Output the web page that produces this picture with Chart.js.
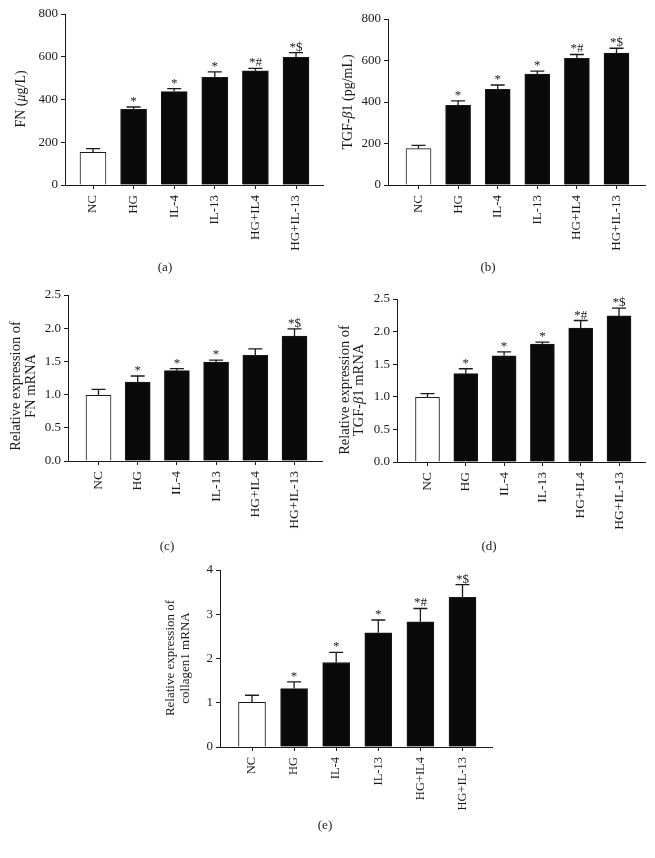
<!DOCTYPE html>
<html>
<head>
<meta charset="utf-8">
<script src="https://cdn.jsdelivr.net/npm/chart.js@4.4.1/dist/chart.umd.min.js"></script>
<style>
    html, body { margin: 0; padding: 0; background: #fff; }
    #page { position: relative; width: 655px; height: 858px; overflow: hidden; }
    .box { position: absolute; }
    .caption {
        position: absolute;
        font-family: "Liberation Serif", serif;
        font-size: 13px;
        color: #222;
        transform: translate(-50%, -50%);
    }
</style>
</head>
<body>
<div id="page"></div>
<script>
// groups on the x axis (same for all five panels)
var categories = ['NC', 'HG', 'IL-4', 'IL-13', 'HG+IL4', 'HG+IL-13'];

// (a) FN protein, ug/L
var fnProtein = [153, 354, 437, 504, 534, 597];
var fnProteinErr = [17, 11, 14, 25, 12, 22];
var fnProteinMarks = ['', '*', '*', '*', '*#', '*$'];

// (b) TGF-b1 protein, pg/mL
var tgfProtein = [175, 384, 461, 535, 610, 636];
var tgfProteinErr = [16, 21, 21, 14, 19, 23];
var tgfProteinMarks = ['', '*', '*', '*', '*#', '*$'];

// (c) FN mRNA
var fnMrna = [0.99, 1.19, 1.36, 1.49, 1.59, 1.88];
var fnMrnaErr = [0.09, 0.09, 0.03, 0.03, 0.10, 0.11];
var fnMrnaMarks = ['', '*', '*', '*', '', '*$'];

// (d) TGF-b1 mRNA
var tgfMrna = [0.99, 1.355, 1.63, 1.81, 2.055, 2.24];
var tgfMrnaErr = [0.06, 0.075, 0.06, 0.03, 0.115, 0.12];
var tgfMrnaMarks = ['', '*', '*', '*', '*#', '*$'];

// (e) collagen1 mRNA
var colMrna = [1.01, 1.32, 1.91, 2.58, 2.83, 3.38];
var colMrnaErr = [0.16, 0.15, 0.23, 0.29, 0.30, 0.29];
var colMrnaMarks = ['', '*', '*', '*', '*#', '*$'];

var FONT = '"Liberation Serif", serif';
var INK = '#1a1a1a';

// error bars, significance marks and the y titles
var panelExtras = {
    id: 'panelExtras',
    afterDatasetsDraw: function (chart, args, o) {
        var ctx = chart.ctx;
        var yScale = chart.scales.y;
        var bars = chart.getDatasetMeta(0).data;
        ctx.save();
        ctx.strokeStyle = INK;
        ctx.fillStyle = INK;
        ctx.lineWidth = 1.3;
        ctx.font = o.markFont + 'px ' + FONT;
        ctx.textAlign = 'center';
        ctx.textBaseline = 'alphabetic';
        bars.forEach(function (bar, i) {
            var top = yScale.getPixelForValue(o.values[i] + o.errors[i]);
            ctx.beginPath();
            ctx.moveTo(bar.x, bar.y);
            ctx.lineTo(bar.x, top);
            ctx.moveTo(bar.x - o.capW / 2, top);
            ctx.lineTo(bar.x + o.capW / 2, top);
            ctx.stroke();
            if (o.marks[i]) {
                ctx.fillText(o.marks[i], bar.x, top - 2);
            }
        });

        // rotated y title, a line may mix upright and italic parts
        ctx.textAlign = 'left';
        ctx.textBaseline = 'middle';
        o.title.forEach(function (line) {
            var w = 0;
            line.parts.forEach(function (p) {
                ctx.font = (p[1] ? 'italic ' : '') + o.titleFont + 'px ' + FONT;
                w += ctx.measureText(p[0]).width;
            });
            ctx.save();
            ctx.translate(line.x - o.box.x, o.titleY - o.box.y);
            ctx.rotate(-Math.PI / 2);
            var pos = -w / 2;
            line.parts.forEach(function (p) {
                ctx.font = (p[1] ? 'italic ' : '') + o.titleFont + 'px ' + FONT;
                ctx.fillText(p[0], pos, 0);
                pos += ctx.measureText(p[0]).width;
            });
            ctx.restore();
        });
        ctx.restore();
    }
};

var panels = [
    {
        caption: '(a)', capX: 165, capY: 267,
        values: fnProtein, errors: fnProteinErr, marks: fnProteinMarks,
        yMax: 800, yStep: 200, dec: 0,
        box: { x: 0, y: 0, w: 330, h: 262 },
        area: { l: 65, t: 14, r: 323, b: 185 }, first: 93, last: 296, barW: 26,
        title: [{ x: 21, parts: [['FN (', false], ['\u03bc', true], ['g/L)', false]] }],
        titleY: 99, titleFont: 14, xFont: 13
    },
    {
        caption: '(b)', capX: 488, capY: 267,
        values: tgfProtein, errors: tgfProteinErr, marks: tgfProteinMarks,
        yMax: 800, yStep: 200, dec: 0,
        box: { x: 330, y: 0, w: 325, h: 262 },
        area: { l: 388, t: 19, r: 645, b: 185 }, first: 418.5, last: 616.5, barW: 25,
        title: [{ x: 348, parts: [['TGF-', false], ['\u03b2', true], ['1 (pg/mL)', false]] }],
        titleY: 102, titleFont: 14, xFont: 13
    },
    {
        caption: '(c)', capX: 167, capY: 546,
        values: fnMrna, errors: fnMrnaErr, marks: fnMrnaMarks,
        yMax: 2.5, yStep: 0.5, dec: 1,
        box: { x: 0, y: 270, w: 330, h: 262 },
        area: { l: 68, t: 295, r: 322, b: 461 }, first: 98.5, last: 294.5, barW: 25,
        title: [
            { x: 16, parts: [['Relative expression of', false]] },
            { x: 31, parts: [['FN mRNA', false]] }
        ],
        titleY: 386, titleFont: 14.5, xFont: 13.5
    },
    {
        caption: '(d)', capX: 489, capY: 546,
        values: tgfMrna, errors: tgfMrnaErr, marks: tgfMrnaMarks,
        yMax: 2.5, yStep: 0.5, dec: 1,
        box: { x: 330, y: 270, w: 325, h: 262 },
        area: { l: 397, t: 299, r: 645, b: 462 }, first: 427.5, last: 619, barW: 24,
        title: [
            { x: 345, parts: [['Relative expression of', false]] },
            { x: 359, parts: [['TGF-', false], ['\u03b2', true], ['1 mRNA', false]] }
        ],
        titleY: 390, titleFont: 14.5, xFont: 13.5
    },
    {
        caption: '(e)', capX: 325, capY: 825,
        values: colMrna, errors: colMrnaErr, marks: colMrnaMarks,
        yMax: 4, yStep: 1, dec: 0,
        box: { x: 140, y: 552, w: 380, h: 262 },
        area: { l: 220, t: 570, r: 492, b: 747 }, first: 252, last: 462.5, barW: 27,
        title: [
            { x: 171, parts: [['Relative expression of', false]] },
            { x: 186, parts: [['collagen1 mRNA', false]] }
        ],
        titleY: 658, titleFont: 13, xFont: 12.5
    }
];

function makePanel(p) {
    var page = document.getElementById('page');
    var n = categories.length;
    var step = (p.last - p.first) / (n - 1);
    var xMin = -(p.first - p.area.l) / step;
    var xMax = (n - 1) + (p.area.r - p.last) / step;

    var wrap = document.createElement('div');
    wrap.className = 'box';
    wrap.style.left = p.box.x + 'px';
    wrap.style.top = p.box.y + 'px';
    var canvas = document.createElement('canvas');
    canvas.width = p.box.w;
    canvas.height = p.box.h;
    canvas.style.width = p.box.w + 'px';
    canvas.style.height = p.box.h + 'px';
    wrap.appendChild(canvas);
    page.appendChild(wrap);

    var cap = document.createElement('div');
    cap.className = 'caption';
    cap.style.left = p.capX + 'px';
    cap.style.top = p.capY + 'px';
    cap.textContent = p.caption;
    page.appendChild(cap);

    var border = { display: true, color: INK, width: 1 };

    new Chart(canvas, {
        type: 'bar',
        data: {
            datasets: [{
                data: p.values.map(function (v, i) { return { x: i, y: v }; }),
                backgroundColor: categories.map(function (c, i) { return i === 0 ? '#ffffff' : '#0a0a0a'; }),
                borderColor: INK,
                borderWidth: 1,
                borderSkipped: 'start',
                barThickness: p.barW
            }]
        },
        options: {
            responsive: false,
            animation: false,
            devicePixelRatio: 1,
            layout: {
                padding: { left: 0, top: p.area.t - p.box.y, right: p.box.x + p.box.w - p.area.r, bottom: 0 }
            },
            plugins: {
                legend: { display: false },
                tooltip: { enabled: false },
                panelExtras: {
                    values: p.values, errors: p.errors, marks: p.marks,
                    capW: 14, markFont: 13,
                    title: p.title, titleY: p.titleY, titleFont: p.titleFont, box: p.box
                }
            },
            scales: {
                x: {
                    type: 'linear',
                    offset: false,
                    min: xMin,
                    max: xMax,
                    afterBuildTicks: function (s) {
                        s.ticks = categories.map(function (c, i) { return { value: i }; });
                    },
                    afterFit: function (s) { s.height = p.box.y + p.box.h - p.area.b; },
                    grid: { display: true, offset: false, drawOnChartArea: false, drawTicks: true, tickLength: 4, color: INK, lineWidth: 1 },
                    border: border,
                    ticks: {
                        autoSkip: false,
                        minRotation: 90,
                        maxRotation: 90,
                        padding: 6,
                        color: INK,
                        font: { family: FONT, size: p.xFont },
                        callback: function (v) { return categories[v]; }
                    }
                },
                y: {
                    min: 0,
                    max: p.yMax,
                    afterFit: function (s) { s.width = p.area.l - p.box.x; },
                    grid: { display: true, drawOnChartArea: false, drawTicks: true, tickLength: 4, color: INK, lineWidth: 1 },
                    border: border,
                    ticks: {
                        stepSize: p.yStep,
                        padding: 3,
                        color: INK,
                        font: { family: FONT, size: 13 },
                        callback: function (v) { return v.toFixed(p.dec); }
                    }
                }
            }
        },
        plugins: [panelExtras]
    });
}

panels.forEach(makePanel);
</script>
</body>
</html>
